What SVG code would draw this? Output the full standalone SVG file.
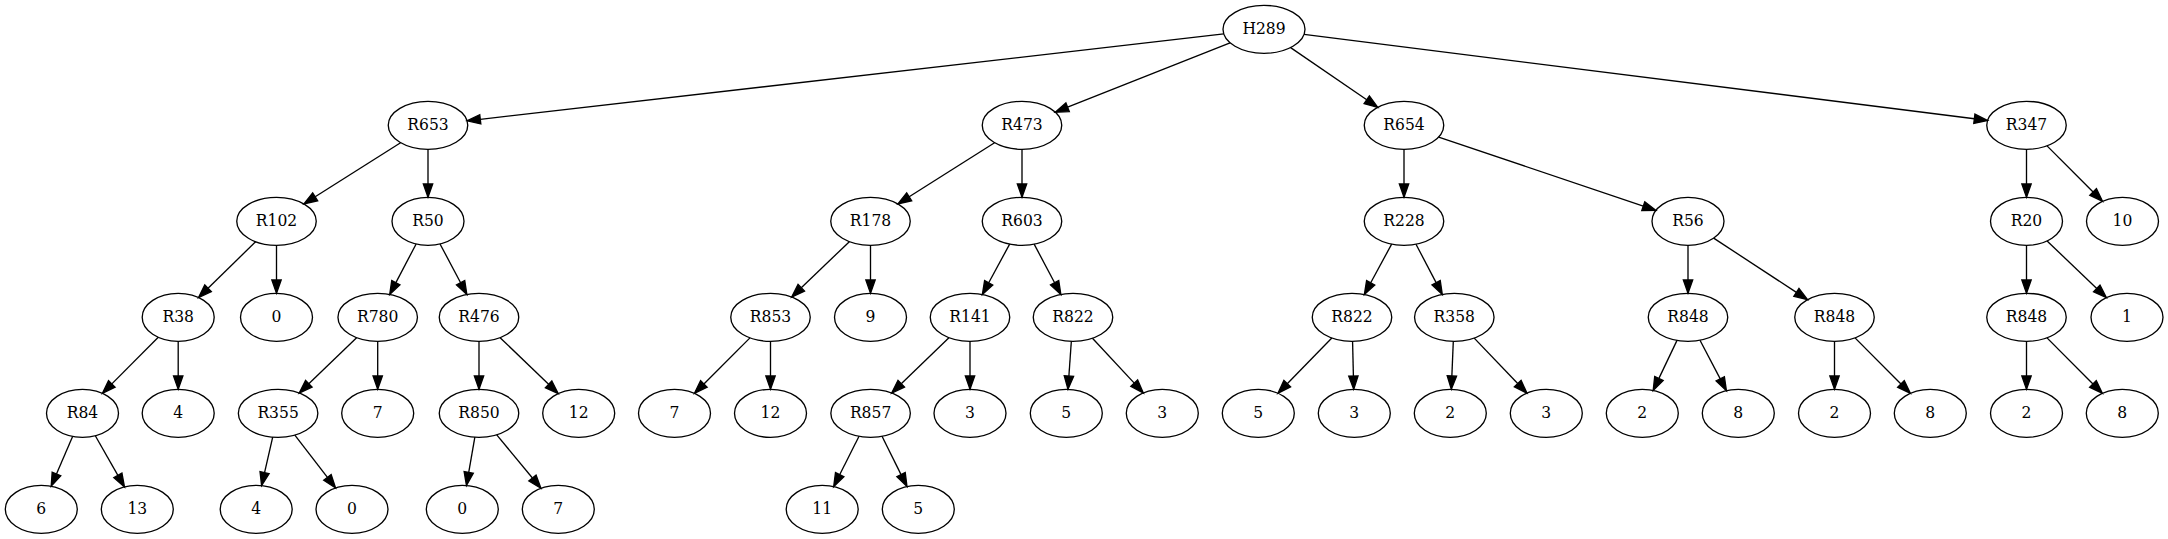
<svg xmlns="http://www.w3.org/2000/svg" width="2168" height="539" viewBox="0 0 2168 539">
<style>
.n ellipse{fill:none;stroke:#000;stroke-width:1.33}
.n text{font-family:"DejaVu Serif Condensed","DejaVu Serif","Liberation Serif",serif;font-stretch:condensed;font-size:17.3px;text-anchor:middle;fill:#000}
#edges line{stroke:#000;stroke-width:1.33;marker-end:url(#a)}
</style>
<defs>
<marker id="a" markerUnits="userSpaceOnUse" markerWidth="14" markerHeight="10" refX="0" refY="0" orient="auto" overflow="visible">
<path d="M0,-4.67 L13.33,0 L0,4.67 Z" fill="#000" stroke="#000" stroke-width="1.33"/>
</marker>
</defs>
<rect width="2168" height="539" fill="#fff"/>
<g id="edges">
<line x1="1223.77" y1="33.95" x2="480.29" y2="119.33"/>
<line x1="1230.06" y1="42.79" x2="1067.61" y2="107.23"/>
<line x1="1290.62" y1="47.58" x2="1366.74" y2="99.78"/>
<line x1="1304.09" y1="34.38" x2="1974.36" y2="118.76"/>
<line x1="400.58" y1="142.71" x2="315.18" y2="196.81"/>
<line x1="428" y1="149.33" x2="428" y2="184"/>
<line x1="994.58" y1="142.71" x2="909.18" y2="196.81"/>
<line x1="1022" y1="149.33" x2="1022" y2="184"/>
<line x1="1404" y1="149.33" x2="1404" y2="184"/>
<line x1="1438.68" y1="137.05" x2="1643.26" y2="206.21"/>
<line x1="2026.5" y1="149.33" x2="2026.5" y2="184"/>
<line x1="2047.05" y1="145.88" x2="2093.1" y2="191.93"/>
<line x1="255.6" y1="241.74" x2="208.04" y2="288.2"/>
<line x1="276.5" y1="245.33" x2="276.5" y2="280"/>
<line x1="416.13" y1="243.99" x2="395.88" y2="282.64"/>
<line x1="440.02" y1="243.95" x2="460.61" y2="282.71"/>
<line x1="849.34" y1="241.65" x2="801.28" y2="287.78"/>
<line x1="870.5" y1="245.33" x2="870.5" y2="280"/>
<line x1="1009.64" y1="244.14" x2="988.71" y2="282.8"/>
<line x1="1034.14" y1="244.18" x2="1054.61" y2="282.71"/>
<line x1="1391.64" y1="244.14" x2="1370.71" y2="282.8"/>
<line x1="1415.99" y1="244.21" x2="1436.12" y2="282.64"/>
<line x1="1688" y1="245.33" x2="1688" y2="280"/>
<line x1="1713.67" y1="238.15" x2="1796.41" y2="292.37"/>
<line x1="2026.5" y1="245.33" x2="2026.5" y2="280"/>
<line x1="2047.1" y1="241.01" x2="2096.76" y2="288.44"/>
<line x1="158.28" y1="337.32" x2="111.83" y2="383.9"/>
<line x1="178.2" y1="341.33" x2="178.2" y2="376"/>
<line x1="356.6" y1="337.67" x2="308.8" y2="383.74"/>
<line x1="377.7" y1="341.33" x2="377.7" y2="376"/>
<line x1="479" y1="341.33" x2="479" y2="376"/>
<line x1="500.12" y1="337.66" x2="548.61" y2="384.35"/>
<line x1="749.95" y1="337.88" x2="703.9" y2="383.93"/>
<line x1="770.5" y1="341.33" x2="770.5" y2="376"/>
<line x1="948.93" y1="337.68" x2="901.26" y2="383.72"/>
<line x1="970" y1="341.33" x2="970" y2="376"/>
<line x1="1071.33" y1="341.31" x2="1068.9" y2="376.06"/>
<line x1="1092.47" y1="338.26" x2="1134.25" y2="383.17"/>
<line x1="1331.82" y1="338.01" x2="1287.24" y2="383.67"/>
<line x1="1352.57" y1="341.33" x2="1353.41" y2="376"/>
<line x1="1453.3" y1="341.33" x2="1451.86" y2="376.01"/>
<line x1="1474.21" y1="338.1" x2="1517.7" y2="383.49"/>
<line x1="1677.02" y1="340.4" x2="1658.92" y2="378.41"/>
<line x1="1699.99" y1="340.21" x2="1720.24" y2="378.86"/>
<line x1="1834.5" y1="341.33" x2="1834.5" y2="376"/>
<line x1="1855.01" y1="337.89" x2="1900.95" y2="383.92"/>
<line x1="2026.5" y1="341.33" x2="2026.5" y2="376"/>
<line x1="2047.01" y1="337.89" x2="2092.95" y2="383.92"/>
<line x1="72.6" y1="436.4" x2="56.46" y2="474.01"/>
<line x1="95.3" y1="435.76" x2="117.89" y2="475.32"/>
<line x1="272.68" y1="437.11" x2="264.57" y2="472.6"/>
<line x1="294.85" y1="435.09" x2="327.43" y2="477.42"/>
<line x1="474.85" y1="437.2" x2="468.73" y2="472.36"/>
<line x1="496.74" y1="434.81" x2="532.44" y2="478.03"/>
<line x1="859.02" y1="436.29" x2="839.67" y2="474.68"/>
<line x1="882.02" y1="436.32" x2="901.05" y2="474.61"/>
</g>
<g id="H289" class="n"><ellipse cx="1264" cy="29.33" rx="41" ry="24"/><text x="1264" y="34.3">H289</text></g>
<g id="R653" class="n"><ellipse cx="428" cy="125.33" rx="39.75" ry="24"/><text x="428" y="130.3">R653</text></g>
<g id="R473" class="n"><ellipse cx="1022" cy="125.33" rx="39.75" ry="24"/><text x="1022" y="130.3">R473</text></g>
<g id="R654" class="n"><ellipse cx="1404" cy="125.33" rx="39.75" ry="24"/><text x="1404" y="130.3">R654</text></g>
<g id="R347" class="n"><ellipse cx="2026.5" cy="125.33" rx="39.75" ry="24"/><text x="2026.5" y="130.3">R347</text></g>
<g id="R102" class="n"><ellipse cx="276.5" cy="221.33" rx="39.75" ry="24"/><text x="276.5" y="226.3">R102</text></g>
<g id="R50" class="n"><ellipse cx="428" cy="221.33" rx="36" ry="24"/><text x="428" y="226.3">R50</text></g>
<g id="R178" class="n"><ellipse cx="870.5" cy="221.33" rx="39.75" ry="24"/><text x="870.5" y="226.3">R178</text></g>
<g id="R603" class="n"><ellipse cx="1022" cy="221.33" rx="39.75" ry="24"/><text x="1022" y="226.3">R603</text></g>
<g id="R228" class="n"><ellipse cx="1404" cy="221.33" rx="39.75" ry="24"/><text x="1404" y="226.3">R228</text></g>
<g id="R56" class="n"><ellipse cx="1688" cy="221.33" rx="36" ry="24"/><text x="1688" y="226.3">R56</text></g>
<g id="R20" class="n"><ellipse cx="2026.5" cy="221.33" rx="36" ry="24"/><text x="2026.5" y="226.3">R20</text></g>
<g id="L10" class="n"><ellipse cx="2122.5" cy="221.33" rx="36" ry="24"/><text x="2122.5" y="226.3">10</text></g>
<g id="R38" class="n"><ellipse cx="178.2" cy="317.33" rx="36" ry="24"/><text x="178.2" y="322.3">R38</text></g>
<g id="L0a" class="n"><ellipse cx="276.5" cy="317.33" rx="36" ry="24"/><text x="276.5" y="322.3">0</text></g>
<g id="R780" class="n"><ellipse cx="377.7" cy="317.33" rx="39.75" ry="24"/><text x="377.7" y="322.3">R780</text></g>
<g id="R476" class="n"><ellipse cx="479" cy="317.33" rx="39.75" ry="24"/><text x="479" y="322.3">R476</text></g>
<g id="R853" class="n"><ellipse cx="770.5" cy="317.33" rx="39.75" ry="24"/><text x="770.5" y="322.3">R853</text></g>
<g id="L9" class="n"><ellipse cx="870.5" cy="317.33" rx="36" ry="24"/><text x="870.5" y="322.3">9</text></g>
<g id="R141" class="n"><ellipse cx="970" cy="317.33" rx="39.75" ry="24"/><text x="970" y="322.3">R141</text></g>
<g id="R822a" class="n"><ellipse cx="1073" cy="317.33" rx="39.75" ry="24"/><text x="1073" y="322.3">R822</text></g>
<g id="R822b" class="n"><ellipse cx="1352" cy="317.33" rx="39.75" ry="24"/><text x="1352" y="322.3">R822</text></g>
<g id="R358" class="n"><ellipse cx="1454.3" cy="317.33" rx="39.75" ry="24"/><text x="1454.3" y="322.3">R358</text></g>
<g id="R848a" class="n"><ellipse cx="1688" cy="317.33" rx="39.75" ry="24"/><text x="1688" y="322.3">R848</text></g>
<g id="R848b" class="n"><ellipse cx="1834.5" cy="317.33" rx="39.75" ry="24"/><text x="1834.5" y="322.3">R848</text></g>
<g id="R848c" class="n"><ellipse cx="2026.5" cy="317.33" rx="39.75" ry="24"/><text x="2026.5" y="322.3">R848</text></g>
<g id="L1" class="n"><ellipse cx="2127" cy="317.33" rx="36" ry="24"/><text x="2127" y="322.3">1</text></g>
<g id="R84" class="n"><ellipse cx="82.5" cy="413.33" rx="36" ry="24"/><text x="82.5" y="418.3">R84</text></g>
<g id="L4a" class="n"><ellipse cx="178.2" cy="413.33" rx="36" ry="24"/><text x="178.2" y="418.3">4</text></g>
<g id="R355" class="n"><ellipse cx="278.1" cy="413.33" rx="39.75" ry="24"/><text x="278.1" y="418.3">R355</text></g>
<g id="L7a" class="n"><ellipse cx="377.7" cy="413.33" rx="36" ry="24"/><text x="377.7" y="418.3">7</text></g>
<g id="R850" class="n"><ellipse cx="479" cy="413.33" rx="39.75" ry="24"/><text x="479" y="418.3">R850</text></g>
<g id="L12a" class="n"><ellipse cx="578.7" cy="413.33" rx="36" ry="24"/><text x="578.7" y="418.3">12</text></g>
<g id="L7b" class="n"><ellipse cx="674.5" cy="413.33" rx="36" ry="24"/><text x="674.5" y="418.3">7</text></g>
<g id="L12b" class="n"><ellipse cx="770.5" cy="413.33" rx="36" ry="24"/><text x="770.5" y="418.3">12</text></g>
<g id="R857" class="n"><ellipse cx="870.6" cy="413.33" rx="39.75" ry="24"/><text x="870.6" y="418.3">R857</text></g>
<g id="L3a" class="n"><ellipse cx="970" cy="413.33" rx="36" ry="24"/><text x="970" y="418.3">3</text></g>
<g id="L5a" class="n"><ellipse cx="1066.3" cy="413.33" rx="36" ry="24"/><text x="1066.3" y="418.3">5</text></g>
<g id="L3b" class="n"><ellipse cx="1162.3" cy="413.33" rx="36" ry="24"/><text x="1162.3" y="418.3">3</text></g>
<g id="L5b" class="n"><ellipse cx="1258.3" cy="413.33" rx="36" ry="24"/><text x="1258.3" y="418.3">5</text></g>
<g id="L3c" class="n"><ellipse cx="1354.3" cy="413.33" rx="36" ry="24"/><text x="1354.3" y="418.3">3</text></g>
<g id="L2a" class="n"><ellipse cx="1450.3" cy="413.33" rx="36" ry="24"/><text x="1450.3" y="418.3">2</text></g>
<g id="L3d" class="n"><ellipse cx="1546.3" cy="413.33" rx="36" ry="24"/><text x="1546.3" y="418.3">3</text></g>
<g id="L2b" class="n"><ellipse cx="1642.3" cy="413.33" rx="36" ry="24"/><text x="1642.3" y="418.3">2</text></g>
<g id="L8a" class="n"><ellipse cx="1738.3" cy="413.33" rx="36" ry="24"/><text x="1738.3" y="418.3">8</text></g>
<g id="L2c" class="n"><ellipse cx="1834.5" cy="413.33" rx="36" ry="24"/><text x="1834.5" y="418.3">2</text></g>
<g id="L8b" class="n"><ellipse cx="1930.3" cy="413.33" rx="36" ry="24"/><text x="1930.3" y="418.3">8</text></g>
<g id="L2d" class="n"><ellipse cx="2026.5" cy="413.33" rx="36" ry="24"/><text x="2026.5" y="418.3">2</text></g>
<g id="L8c" class="n"><ellipse cx="2122.3" cy="413.33" rx="36" ry="24"/><text x="2122.3" y="418.3">8</text></g>
<g id="L6" class="n"><ellipse cx="41.3" cy="509.33" rx="36" ry="24"/><text x="41.3" y="514.3">6</text></g>
<g id="L13" class="n"><ellipse cx="137.3" cy="509.33" rx="36" ry="24"/><text x="137.3" y="514.3">13</text></g>
<g id="L4b" class="n"><ellipse cx="256.2" cy="509.33" rx="36" ry="24"/><text x="256.2" y="514.3">4</text></g>
<g id="L0b" class="n"><ellipse cx="352" cy="509.33" rx="36" ry="24"/><text x="352" y="514.3">0</text></g>
<g id="L0c" class="n"><ellipse cx="462.3" cy="509.33" rx="36" ry="24"/><text x="462.3" y="514.3">0</text></g>
<g id="L7c" class="n"><ellipse cx="558.3" cy="509.33" rx="36" ry="24"/><text x="558.3" y="514.3">7</text></g>
<g id="L11" class="n"><ellipse cx="822.2" cy="509.33" rx="36" ry="24"/><text x="822.2" y="514.3">11</text></g>
<g id="L5c" class="n"><ellipse cx="918.3" cy="509.33" rx="36" ry="24"/><text x="918.3" y="514.3">5</text></g>
</svg>
